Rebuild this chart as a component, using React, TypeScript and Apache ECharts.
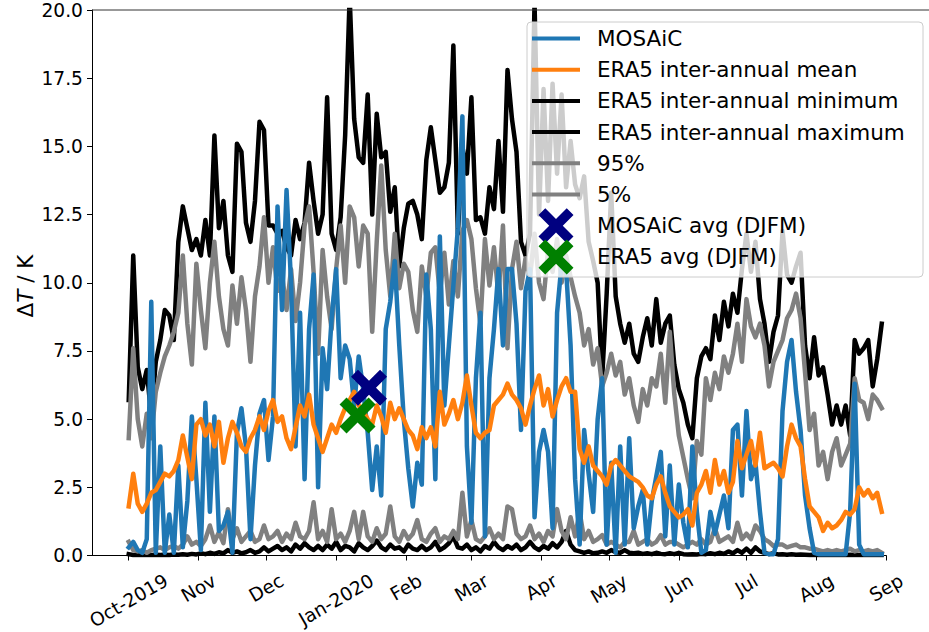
import React, { useEffect, useRef } from "react";
import * as echarts from "echarts";

const FONT = "DejaVu Sans";
const STEP_DAYS = 2; // one sample every 2 days, starting 1 Oct 2019

// ---- series values (ΔT / K), every 2 days from 2019-10-01 ----
const mosaic = [
  0.3, 0.5, 0.2, 0.1, 0.6, 9.3, 0.1, 4.0, 0.1, 1.5,
  0.1, 3.3, 0.3, 2.0, 5.1, 2.8, 0.2, 5.6, 1.6, 5.1,
  0.9, 1.1, 1.6, 0.1, 4.5, 5.4, 4.0, 0.6, 3.3, 5.2,
  5.7, 3.5, 5.1, 12.8, 9.0, 13.4, 10.0, 4.0, 8.9, 2.8,
  8.3, 10.3, 2.5, 7.6, 6.1, 8.7, 10.5, 6.5, 7.7, 7.2,
  5.5, 7.3, 6.1, 4.5, 2.4, 4.0, 2.2, 8.3, 9.3, 10.8,
  7.7, 5.0, 3.2, 1.8, 3.4, 2.6, 10.3, 8.3, 2.8, 11.7,
  5.5, 7.7, 9.9, 12.0, 16.1, 4.0, 1.2, 6.5, 8.9, 0.7,
  6.5, 8.3, 10.5, 7.7, 10.5, 10.5, 8.5, 4.6, 9.7, 10.5,
  1.4, 3.8, 4.6, 3.8, 1.0, 8.9, 10.7, 10.5, 7.7, 2.8,
  0.4, 4.6, 3.0, 1.6, 5.0, 6.5, 0.4, 3.4, 0.1, 4.0,
  0.4, 4.3, 1.0, 1.8, 2.4, 0.4, 2.0, 2.9, 3.8, 0.7,
  3.3, 0.4, 2.6, 1.2, 0.3, 4.0, 1.6, 0.1, 0.2, 1.6,
  0.8, 1.5, 2.2, 1.0, 4.6, 4.8, 2.2, 5.3, 2.8, 3.4,
  1.6, 0.1, 0.05, 0.05, 0.6, 5.3, 7.1, 7.9, 6.0, 4.6,
  2.2, 1.0, 0.1, 0.05, 0.05, 0.05, 0.05, 0.05, 0.05, 0.05,
  1.6, 6.3, 0.4, 0.05, 0.05, 0.05, 0.05, 0.05,
];

const era5Mean = [
  1.8, 3.0, 1.9, 1.6, 1.9, 2.3, 2.4, 2.7, 3.0, 2.9,
  3.1, 3.5, 4.4, 3.6, 2.8, 4.8, 5.0, 4.4, 4.8, 4.0,
  4.9, 3.4, 4.3, 4.9, 4.5, 4.0, 3.8, 4.3, 4.6, 5.1,
  4.6, 5.3, 5.7, 4.9, 5.1, 4.3, 3.9, 4.7, 5.5, 5.1,
  5.9, 4.8, 4.3, 3.8, 4.3, 4.8, 4.5, 5.0, 5.4, 5.7,
  6.0, 5.5, 5.3, 5.0, 4.8, 5.5, 5.1, 4.5, 5.6, 5.0,
  5.4, 5.0, 4.6, 4.4, 3.9, 4.7, 4.3, 4.7, 4.0, 6.0,
  4.8, 5.2, 5.7, 5.0, 5.6, 6.6, 5.5, 4.5, 4.3, 4.5,
  4.6, 5.5, 5.7, 5.9, 6.3, 5.9, 5.7, 5.4, 4.8, 5.5,
  6.1, 6.6, 5.5, 6.1, 5.1, 5.7, 6.2, 6.5, 6.0, 6.0,
  3.9, 3.4, 4.0, 3.3, 3.1, 2.9, 2.6, 3.3, 3.5, 3.3,
  3.1, 2.9, 2.8, 2.7, 2.5, 2.2, 2.1, 2.6, 2.9, 2.3,
  1.8, 1.6, 1.4, 1.5, 1.7, 1.1, 2.3, 2.6, 3.1, 2.3,
  3.5, 2.6, 3.1, 2.3, 2.7, 4.2, 3.2, 3.7, 4.2, 3.3,
  4.5, 3.2, 3.3, 3.4, 3.2, 2.9, 4.0, 4.8, 4.3, 4.0,
  2.8, 1.8, 1.6, 1.4, 0.9, 1.2, 1.0, 1.1, 1.3, 1.6,
  1.5, 1.7, 2.5, 2.2, 2.4, 2.1, 2.3, 1.6,
];

const era5Min = [
  0.05, 0.02, 0.02, 0.03, 0.02, 0.02, 0.03, 0.02, 0.03, 0.02,
  0.04, 0.03, 0.05, 0.03, 0.06, 0.04, 0.08, 0.05, 0.1, 0.06,
  0.12, 0.08, 0.2, 0.1, 0.15, 0.08, 0.12, 0.2, 0.1, 0.15,
  0.3, 0.15, 0.25, 0.35, 0.2, 0.3, 0.15, 0.4, 0.25, 0.45,
  0.3, 0.2, 0.35, 0.2, 0.4, 0.25, 0.5, 0.2, 0.35, 0.3,
  0.15, 0.45, 0.3, 0.2, 0.35, 0.55, 0.3, 0.2, 0.4, 0.25,
  0.3, 0.15, 0.4, 0.25, 0.2, 0.35, 0.2, 0.3, 0.5, 0.2,
  0.3, 0.45, 0.7, 0.3, 0.25, 0.4, 0.2, 0.3, 0.15, 0.35,
  0.25, 0.5, 0.3, 0.2, 0.35, 0.25, 0.4, 0.2, 0.3, 0.5,
  0.3, 0.2, 0.35, 0.25, 0.45, 0.3, 0.5, 0.9, 0.4, 0.2,
  0.15, 0.1, 0.15, 0.08, 0.1, 0.15, 0.1, 0.2, 0.12, 0.1,
  0.2, 0.1, 0.08, 0.1, 0.06, 0.08, 0.05, 0.1, 0.06, 0.05,
  0.08, 0.05, 0.1, 0.05, 0.04, 0.05, 0.04, 0.06, 0.05, 0.08,
  0.05, 0.1, 0.06, 0.15, 0.08, 0.2, 0.1, 0.25, 0.1, 0.3,
  0.15, 0.1, 0.05, 0.08, 0.04, 0.05, 0.03, 0.05, 0.03, 0.04,
  0.03, 0.02, 0.03, 0.02, 0.03, 0.02, 0.02, 0.03, 0.02, 0.02,
  0.03, 0.02, 0.02, 0.03, 0.02, 0.02, 0.03, 0.02,
];

const era5Max = [
  5.7, 11.0, 6.9, 6.1, 6.8, 5.1, 7.1, 7.9, 9.0, 8.8,
  7.9, 11.5, 12.8, 12.0, 11.2, 11.6, 11.0, 12.3, 11.0, 15.4,
  12.0, 13.0, 11.0, 10.4, 15.1, 14.8, 12.2, 11.5, 13.0, 15.9,
  15.6, 12.1, 12.1, 11.8, 11.9, 11.3, 11.0, 12.3, 11.6, 12.2,
  14.4, 13.0, 11.8, 12.5, 16.8, 11.8, 11.2, 12.4, 15.4, 20.5,
  16.0, 14.6, 14.4, 16.9, 12.5, 16.2, 14.6, 14.8, 12.6, 13.5,
  10.6, 12.0, 12.9, 13.0, 12.5, 11.6, 14.5, 15.7, 14.5, 13.3,
  13.5, 14.4, 18.7, 11.8, 15.0, 14.0, 16.8, 12.3, 12.4, 11.8,
  13.5, 12.7, 15.2, 12.6, 17.8, 16.0, 14.8, 11.5, 11.0, 11.8,
  20.3, 12.5, 17.1, 13.0, 17.3, 14.0, 16.9, 13.5, 15.2, 13.6,
  13.1, 13.9, 11.5, 10.8, 10.0, 6.5, 9.6, 13.3, 9.5, 8.5,
  7.8, 8.5, 7.4, 7.1, 8.0, 8.7, 7.7, 9.4, 7.8, 8.5,
  8.8, 7.0, 6.1, 5.6, 4.8, 4.3, 6.5, 7.3, 7.6, 7.2,
  8.8, 7.9, 9.3, 8.4, 9.6, 8.9, 10.5, 11.8, 10.4, 11.5,
  9.4, 8.5, 7.1, 8.2, 8.8, 11.9, 10.3, 10.0, 10.6, 11.1,
  7.7, 6.5, 8.0, 6.6, 6.9, 5.9, 4.8, 5.5, 4.8, 5.5,
  4.4, 7.9, 7.4, 7.6, 7.9, 6.2, 7.2, 8.5,
];

const pct95 = [
  4.3, 7.6, 5.0, 4.0, 5.2, 4.3, 6.0, 6.7, 7.3, 7.7,
  8.2, 8.9, 11.0, 8.5, 7.0, 10.7, 9.0, 7.6, 10.0, 11.5,
  9.5, 8.3, 7.7, 9.9, 8.5, 10.2, 9.0, 7.1, 9.5, 10.6,
  12.4, 10.0, 11.3, 9.7, 10.3, 9.0, 10.5, 8.6, 10.0, 12.1,
  12.8, 10.4, 7.4, 11.2, 9.5, 8.3, 10.5, 12.1, 10.0, 12.8,
  12.4, 10.6, 12.1, 11.8, 8.2, 11.5, 14.3, 11.2, 9.5, 11.8,
  9.8, 10.7, 10.4, 9.0, 8.2, 10.6, 9.5, 11.1, 11.3, 9.6,
  11.1, 9.2, 10.8, 9.5, 11.9, 12.3, 11.6, 9.8, 8.5, 11.6,
  9.9, 11.3, 9.5, 12.1, 7.6, 10.5, 11.5, 9.8, 10.9, 10.2,
  11.8, 10.0, 9.4, 11.2, 10.4, 11.6, 10.0, 11.0, 10.2, 9.5,
  8.9, 7.7, 8.3, 7.0, 7.6, 6.2, 6.7, 7.4, 6.6, 7.1,
  5.9, 6.5, 5.5, 4.9, 6.1, 5.5, 6.5, 6.2, 7.4, 5.6,
  8.2, 5.9, 4.4, 3.6, 2.8, 2.1, 4.2, 3.7, 6.5, 5.7,
  6.7, 6.1, 7.3, 6.7, 7.4, 8.5, 7.1, 9.4, 8.4, 8.0,
  8.5, 7.7, 6.2, 7.1, 7.5, 7.9, 8.7, 9.0, 9.6, 8.7,
  6.7, 4.6, 5.2, 3.3, 3.8, 2.8, 3.8, 4.3, 3.3, 3.7,
  4.1, 6.5, 5.7, 5.6, 5.0, 5.9, 5.7, 5.4,
];

const pct5 = [
  0.5, 0.2, 0.15, 0.2, 0.1, 0.2, 0.25, 0.3, 0.2, 0.3,
  0.35, 0.25, 0.4, 0.7, 0.4, 0.5, 0.35, 0.6, 1.1, 0.5,
  0.85, 0.45, 1.7, 0.6, 1.0, 0.5, 0.7, 0.9, 0.5, 0.6,
  1.1, 0.6, 0.7, 0.9, 0.5, 0.8, 0.6, 1.2, 0.7, 0.6,
  0.9, 1.95, 0.6, 0.9, 0.5, 1.7, 0.6, 0.8, 0.5, 0.9,
  1.6, 0.6, 1.6, 0.7, 0.5, 1.0, 0.6, 0.8, 1.8, 0.7,
  0.5, 0.9, 0.6, 0.8, 1.3, 0.6, 0.5, 0.8, 1.0, 0.5,
  0.7, 0.6, 0.9, 0.6, 2.3, 0.7, 1.3, 0.6, 0.5, 0.7,
  1.0, 0.6, 0.8, 0.6, 1.8, 1.7, 0.8, 0.6, 0.7, 1.1,
  0.6, 0.8, 0.5, 0.9, 0.7, 1.7, 0.9, 0.6, 1.4, 0.7,
  1.6, 0.6, 0.9, 0.5, 0.6, 0.75, 0.4, 0.5, 0.4, 0.3,
  0.5, 0.5, 0.9, 0.4, 0.5, 0.6, 0.4, 0.5, 0.75, 0.4,
  0.5, 0.5, 0.4, 0.3, 0.4, 0.5, 0.4, 0.6, 0.4, 0.5,
  1.0, 0.5, 0.6, 0.7, 0.5, 1.2, 0.6, 0.8, 0.6, 1.1,
  0.9, 0.6, 0.5, 0.35, 0.4, 0.4, 0.3, 0.35, 0.4, 0.3,
  0.3, 0.25, 0.25, 0.2, 0.15, 0.2, 0.15, 0.2, 0.15, 0.2,
  0.25, 0.15, 0.2, 0.15, 0.2, 0.15, 0.2, 0.1,
];

// DJFM averages: [year, month(0-based), day, hour], value
const mosaicAvg = { date: [2020, 0, 15, 14], value: 6.15 };
const era5Avg = { date: [2020, 0, 10, 12], value: 5.13 };

// axes
const xTickMonths = [
  [2019, 9], [2019, 10], [2019, 11], [2020, 0], [2020, 1], [2020, 2],
  [2020, 3], [2020, 4], [2020, 5], [2020, 6], [2020, 7], [2020, 8],
];
const xTickLabels = ["Oct-2019", "Nov", "Dec", "Jan-2020", "Feb", "Mar", "Apr", "May", "Jun", "Jul", "Aug", "Sep"];
const yMin = 0;
const yMax = 20;
const yStep = 2.5;

const legendLabels = [
  "MOSAiC",
  "ERA5 inter-annual mean",
  "ERA5 inter-annual minimum",
  "ERA5 inter-annual maximum",
  "95%",
  "5%",
  "MOSAiC avg (DJFM)",
  "ERA5 avg (DJFM)",
];

const C_BLUE = "#1f77b4";
const C_ORANGE = "#ff7f0e";
const C_BLACK = "#000000";
const C_GRAY = "#808080";
const C_NAVY = "#000080";
const C_GREEN = "#008000";

// filled "x" marker outline (square box of +-124)
const X_PTS = [
  [-76, -124], [0, -48], [76, -124], [124, -76], [48, 0], [124, 76],
  [76, 124], [0, 48], [-76, 124], [-124, 76], [-48, 0], [-124, -76],
];
const X_PATH = "path://M" + X_PTS.map((p) => p.join(",")).join("L") + "Z";

const dateAt = (i: number) => new Date(2019, 9, 1 + i * STEP_DAYS).getTime();
const toPairs = (arr: number[]) => arr.map((v, i) => [dateAt(i), v]);

function measure(text: string, size: number) {
  const c = document.createElement("canvas").getContext("2d");
  if (!c) return text.length * size * 0.6;
  c.font = `${size}px "${FONT}"`;
  return c.measureText(text).width;
}

export default function App() {
  const ref = useRef<HTMLDivElement>(null);

  useEffect(() => {
    if (!ref.current) return;
    const chart = echarts.init(ref.current, null, { renderer: "svg", width: 929, height: 632 });

    const GRID = { left: 92, right: 33, top: 10, bottom: 75 };
    const TICK_FS = 18.67;
    const LEG_FS = 21.5;
    const X_MIN = new Date(2019, 8, 14, 17).getTime();
    const X_MAX = new Date(2020, 8, 1).getTime();

    const tickValues = xTickMonths.map(([y, m]) => new Date(y, m, 1).getTime());
    // a blank first label at the axis start keeps ECharts' min-label overlap rule away from "Oct-2019"
    const labelValues = [X_MIN, ...tickValues];

    // matplotlib-like rotated, centred tick labels
    const rich: Record<string, any> = { blank: { fontSize: 1, lineHeight: 1, color: "rgba(0,0,0,0)" } };
    xTickLabels.forEach((lab, i) => {
      const w = measure(lab, TICK_FS);
      const lh = 22;
      const H = w * 0.5 + lh * 0.866;
      const d = H / 2 + 5;
      rich["t" + i] = {
        fontSize: TICK_FS,
        fontFamily: FONT,
        color: "#000",
        lineHeight: lh,
        padding: [1.732 * d, d, 0, 0],
      };
    });

    // legend (matplotlib style) built from graphic elements
    const L = { x: 527, y: 22, w: 396, h: 255, row0: 38.5, gap: 31.2, hx0: 532, hx1: 580, tx: 597 };
    const legendItems: any[] = [
      { type: "line", color: C_BLUE },
      { type: "line", color: C_ORANGE },
      { type: "line", color: C_BLACK },
      { type: "line", color: C_BLACK },
      { type: "line", color: C_GRAY },
      { type: "line", color: C_GRAY },
      { type: "x", color: C_NAVY },
      { type: "x", color: C_GREEN },
    ];
    const legendEls: any[] = [
      {
        type: "rect",
        shape: { x: L.x, y: L.y, width: L.w, height: L.h, r: 4 },
        style: { fill: "rgba(255,255,255,0.8)", stroke: "#cccccc", lineWidth: 1 },
        z: 100,
      },
    ];
    legendItems.forEach((it, i) => {
      const cy = L.row0 + i * L.gap;
      const cx = (L.hx0 + L.hx1) / 2;
      if (it.type === "line") {
        legendEls.push({
          type: "line",
          shape: { x1: L.hx0, y1: cy, x2: L.hx1, y2: cy },
          style: { stroke: it.color, lineWidth: 4 },
          z: 101,
        });
      } else {
        const s = 17.5 / 124;
        legendEls.push({
          type: "polygon",
          shape: { points: X_PTS.map(([px, py]) => [cx + px * s, cy + py * s]) },
          style: { fill: it.color },
          z: 101,
        });
      }
      legendEls.push({
        type: "text",
        x: L.tx,
        y: cy,
        style: {
          text: legendLabels[i],
          fontSize: LEG_FS,
          fontFamily: FONT,
          fill: "#000",
          align: "left",
          verticalAlign: "middle",
        },
        z: 101,
      });
    });

    const lineSeries = (name: string, data: number[], color: string, z: number) => ({
      name,
      type: "line",
      data: toPairs(data),
      showSymbol: false,
      symbol: "none",
      z,
      clip: true,
      lineStyle: { color, width: 4.5, join: "round", cap: "square" },
      itemStyle: { color },
      emphasis: { disabled: true },
    });

    const option: any = {
      animation: false,
      backgroundColor: "#ffffff",
      textStyle: { fontFamily: FONT },
      grid: GRID,
      xAxis: {
        type: "value",
        min: X_MIN,
        max: X_MAX,
        axisLine: { show: true, lineStyle: { color: "#000", width: 1 } },
        axisTick: { show: true, length: 5, customValues: tickValues, lineStyle: { color: "#000" } },
        splitLine: { show: false },
        axisLabel: {
          customValues: labelValues,
          rotate: 30,
          align: "center",
          verticalAlign: "middle",
          margin: 9,
          hideOverlap: false,
          showMaxLabel: true,
          fontSize: TICK_FS,
          fontFamily: FONT,
          color: "#000",
          rich,
          formatter: (val: number) => {
            const idx = tickValues.findIndex((t) => Math.abs(t - val) < 3600 * 1000 * 12);
            if (idx < 0) return "{blank| }";
            return `{t${idx}|${xTickLabels[idx]}}`;
          },
        },
      },
      yAxis: {
        type: "value",
        min: yMin,
        max: yMax,
        interval: yStep,
        axisLine: { show: true, lineStyle: { color: "#000", width: 1 } },
        axisTick: { show: true, length: 5, lineStyle: { color: "#000" } },
        splitLine: { show: false },
        axisLabel: {
          fontSize: TICK_FS,
          fontFamily: FONT,
          color: "#000",
          margin: 9,
          formatter: (v: number) => v.toFixed(1),
        },
      },
      graphic: [
        {
          type: "line",
          shape: { x1: 92, y1: 10, x2: 929, y2: 10 },
          style: { stroke: "#333", lineWidth: 1 },
          z: 50,
        },
        {
          type: "text",
          x: 25,
          y: 286,
          rotation: Math.PI / 2,
          style: {
            text: "{a|Δ}{b|T}{a| / K}",
            align: "center",
            verticalAlign: "middle",
            rich: {
              a: { fontSize: LEG_FS, fontFamily: FONT, fill: "#000" },
              b: { fontSize: LEG_FS, fontFamily: FONT, fontStyle: "italic", fill: "#000" },
            },
          },
          z: 50,
        },
        ...legendEls,
      ],
      series: [
        lineSeries("ERA5 inter-annual minimum", era5Min, C_BLACK, 2),
        lineSeries("ERA5 inter-annual maximum", era5Max, C_BLACK, 2),
        lineSeries("95%", pct95, C_GRAY, 3),
        lineSeries("5%", pct5, C_GRAY, 3),
        lineSeries("MOSAiC", mosaic, C_BLUE, 4),
        lineSeries("ERA5 inter-annual mean", era5Mean, C_ORANGE, 5),
        {
          name: "MOSAiC avg (DJFM)",
          type: "scatter",
          z: 6,
          symbol: X_PATH,
          symbolSize: 36,
          itemStyle: { color: C_NAVY, opacity: 1 },
          data: [[new Date(mosaicAvg.date[0], mosaicAvg.date[1], mosaicAvg.date[2], mosaicAvg.date[3]).getTime(), mosaicAvg.value]],
          emphasis: { disabled: true },
        },
        {
          name: "ERA5 avg (DJFM)",
          type: "scatter",
          z: 7,
          symbol: X_PATH,
          symbolSize: 36,
          itemStyle: { color: C_GREEN, opacity: 1 },
          data: [[new Date(era5Avg.date[0], era5Avg.date[1], era5Avg.date[2], era5Avg.date[3]).getTime(), era5Avg.value]],
          emphasis: { disabled: true },
        },
      ],
    };

    chart.setOption(option);
    return () => {
      chart.dispose();
    };
  }, []);

  return (
    <div
      ref={ref}
      style={{ position: "absolute", left: 0, top: 0, width: 929, height: 632, background: "#fff" }}
    />
  );
}
